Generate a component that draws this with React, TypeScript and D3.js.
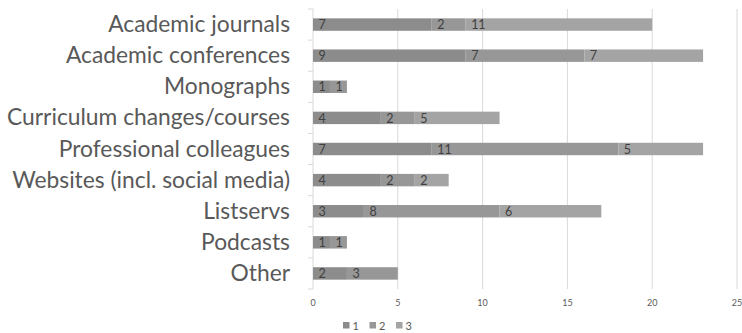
import React from "react";
import * as d3 from "d3";

// Information sources, counted by rank (1, 2, 3)
const categories = [
  "Academic journals",
  "Academic conferences",
  "Monographs",
  "Curriculum changes/courses",
  "Professional colleagues",
  "Websites (incl. social media)",
  "Listservs",
  "Podcasts",
  "Other",
];
const seriesNames = ["1", "2", "3"];
const rank1 = [7, 9, 1, 4, 7, 4, 3, 1, 2];
const rank2 = [2, 7, 1, 2, 11, 2, 8, 1, 3];
const rank3 = [11, 7, 0, 5, 5, 2, 6, 0, 0];
const xTicks = [0, 5, 10, 15, 20, 25];

const WIDTH = 742;
const HEIGHT = 333;
const colors = ["#8c8c8c", "#979797", "#a4a4a4"];
const font = "Lato, 'Open Sans', sans-serif";

export default function App() {
  const x = d3.scaleLinear().domain([0, 25]).range([313, 737]);
  const y = d3
    .scaleBand<string>()
    .domain(categories)
    .range([9, 289])
    .paddingInner(0.6)
    .paddingOuter(0.3);

  const rows = categories.map((c, i) => ({
    cat: c,
    "1": rank1[i],
    "2": rank2[i],
    "3": rank3[i],
  }));
  const stacked = d3.stack<any>().keys(seriesNames)(rows);

  const step = y.step();
  const [y0, y1] = y.range();
  const boundaries = d3.range(categories.length + 1).map((i) => y0 + i * step);

  return (
    <svg
      width={WIDTH}
      height={HEIGHT}
      style={{ position: "absolute", left: 0, top: 0, background: "#fff" }}
    >
      {/* vertical gridlines */}
      {xTicks.slice(1).map((t) => (
        <line
          key={t}
          x1={x(t)}
          x2={x(t)}
          y1={y0}
          y2={y1}
          stroke="#d9d9d9"
          strokeWidth={1}
        />
      ))}

      {/* category axis */}
      <line x1={x(0)} x2={x(0)} y1={y0} y2={y1} stroke="#d9d9d9" />
      {boundaries.map((b, i) => (
        <line key={i} x1={x(0) - 5} x2={x(0)} y1={b} y2={b} stroke="#d9d9d9" />
      ))}
      {categories.map((c) => (
        <text
          key={c}
          x={290}
          y={(y(c) as number) + y.bandwidth() / 2 + 7.5}
          textAnchor="end"
          fontFamily={font}
          fontSize={22.8}
          fill="#595959"
        >
          {c}
        </text>
      ))}

      {/* stacked bars */}
      {stacked.map((layer, si) => (
        <g key={layer.key}>
          {layer.map((d, i) =>
            d[1] - d[0] > 0 ? (
              <g key={i}>
                <rect
                  x={x(d[0])}
                  y={y(categories[i])}
                  width={x(d[1]) - x(d[0])}
                  height={y.bandwidth()}
                  fill={colors[si]}
                />
                <text
                  x={x(d[0]) + 5.5}
                  y={(y(categories[i]) as number) + y.bandwidth() / 2 + 4.7}
                  fontFamily={font}
                  fontSize={12.5}
                  fill="#404040"
                >
                  {d[1] - d[0]}
                </text>
              </g>
            ) : null
          )}
        </g>
      ))}

      {/* value axis labels */}
      {xTicks.map((t) => (
        <text
          key={t}
          x={x(t)}
          y={306}
          textAnchor="middle"
          fontFamily={font}
          fontSize={9}
          fill="#595959"
        >
          {t}
        </text>
      ))}

      {/* legend */}
      {seriesNames.map((s, i) => (
        <g key={s} transform={`translate(${343 + i * 26.5},0)`}>
          <rect x={0} y={322} width={6.5} height={6.5} fill={colors[i]} />
          <text x={9.5} y={329.5} fontFamily={font} fontSize={11} fill="#595959">
            {s}
          </text>
        </g>
      ))}
    </svg>
  );
}
